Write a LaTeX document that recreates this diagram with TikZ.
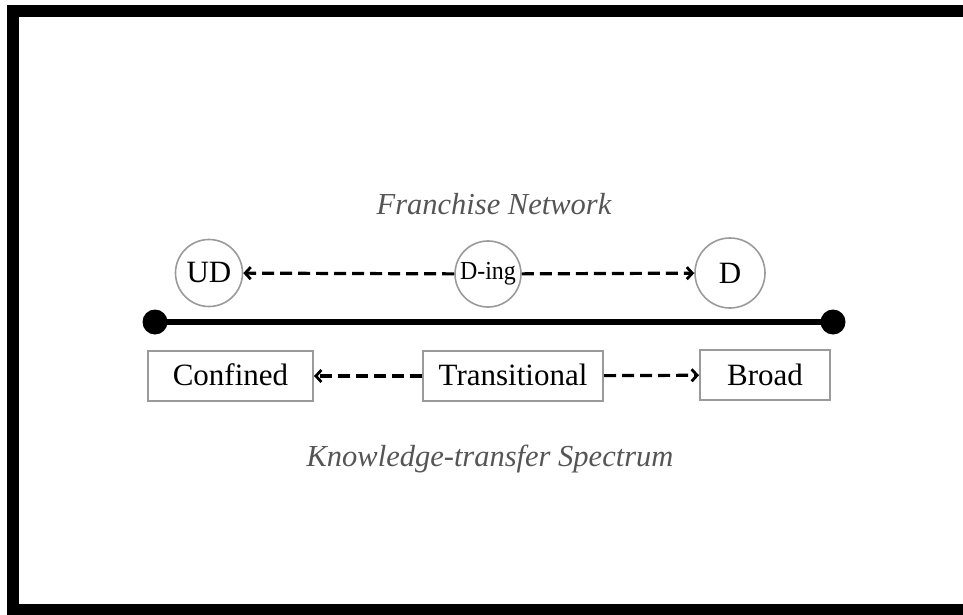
\documentclass[tikz,border=0pt]{standalone}
\usepackage{fontspec}
\setmainfont{Liberation Serif}
\usetikzlibrary{arrows.meta}
\definecolor{framegray}{HTML}{9A9A9A}
\definecolor{labelgray}{HTML}{555555}
\tikzset{
  circ/.style={circle, draw=framegray, line width=1.6pt, minimum size=67pt, inner sep=0pt, font=\fontsize{31}{33}\selectfont},
  sbox/.style={rectangle, draw=framegray, line width=2pt, minimum height=50pt, inner sep=0pt, font=\fontsize{31}{33}\selectfont},
  darr/.style={line width=3.2pt, dash pattern=on 12pt off 6pt, -{Straight Barb[length=5.5pt,width=12pt,line width=2.8pt]}},
  captext/.style={font=\fontsize{30.5}{32}\selectfont\itshape, text=labelgray, inner sep=0pt},
}
\begin{document}
\begin{tikzpicture}[x=1pt,y=-1pt]
\useasboundingbox (0,0) rectangle (963,615);
\draw[line width=12pt] (12.5,11) rectangle (975,610);
\node[captext] (fn) at (494,204) {Franchise Network};
\node[captext] (ks) at (490,459) {Knowledge-transfer Spectrum};
\coordinate (l) at (155,322);
\coordinate (r) at (833,322);
\draw[line width=6pt] (l) -- (r);
\fill (l) circle (12.5pt);
\fill (r) circle (12.5pt);
\node[circ] (ud) at (209,273) {UD};
\node[circ, minimum size=66pt, font=\fontsize{26}{28}\selectfont] (ding) at (488,274) {\scalebox{0.92}[1]{D-ing}};
\node[circ, minimum size=70pt] (d) at (730,273) {D};
\node[sbox, minimum width=165pt] (conf) at (230.5,376) {\raisebox{2pt}{Confined}};
\node[sbox, minimum width=180pt] (trans) at (513,376) {\raisebox{2pt}{Transitional}};
\node[sbox, minimum width=130pt] (broad) at (765,375) {Broad};
\draw[darr] (ding) -- (ud);
\draw[darr] (ding) -- (d);
\draw[darr] (trans) -- (conf);
\draw[darr] (trans) -- (broad);
\end{tikzpicture}
\end{document}
